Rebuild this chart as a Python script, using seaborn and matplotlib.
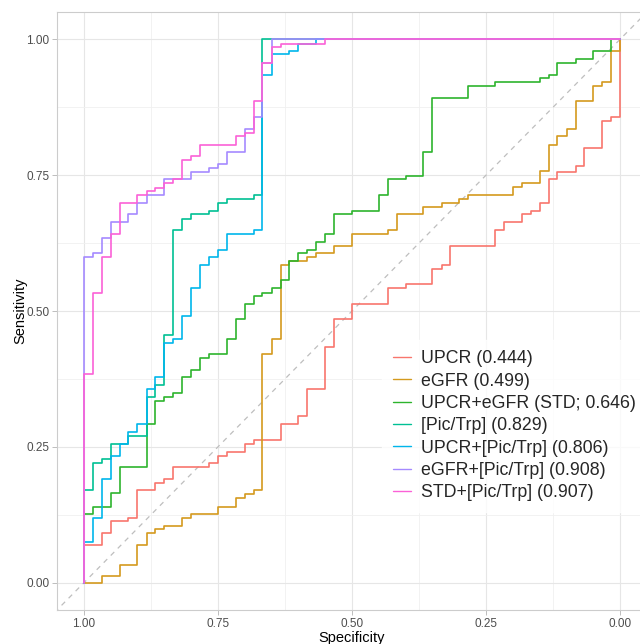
import pandas as pd
import seaborn as sns
import matplotlib.pyplot as plt
from matplotlib.ticker import FixedLocator

# ROC curves (specificity, sensitivity) at the foot of each vertical step
upcr_spec = [1, 0.967, 0.950, 0.917, 0.900, 0.867, 0.850, 0.833, 0.767, 0.750, 0.733, 0.700, 0.683, 0.633, 0.600,
             0.583, 0.550, 0.533, 0.500, 0.433, 0.400, 0.350, 0.333, 0.317, 0.233, 0.217, 0.183, 0.167, 0.150, 0.133,
             0.117, 0.083, 0.067, 0.033, 0.017, 0, 0]
upcr_sens = [0, 0.069, 0.091, 0.113, 0.119, 0.170, 0.184, 0.191, 0.213, 0.220, 0.234, 0.241, 0.256, 0.263, 0.292,
             0.306, 0.356, 0.434, 0.485, 0.513, 0.542, 0.549, 0.578, 0.585, 0.620, 0.649, 0.663, 0.678, 0.684, 0.699,
             0.742, 0.756, 0.767, 0.799, 0.849, 0.856, 1]

egfr_spec = [1, 0.967, 0.933, 0.900, 0.883, 0.867, 0.850, 0.817, 0.800, 0.750, 0.717, 0.700, 0.683, 0.667, 0.650,
             0.633, 0.617, 0.583, 0.567, 0.533, 0.500, 0.433, 0.417, 0.367, 0.333, 0.300, 0.283, 0.200, 0.183, 0.150,
             0.133, 0.117, 0.100, 0.083, 0.050, 0.033, 0.017, 0, 0]
egfr_sens = [0, 0, 0.013, 0.033, 0.069, 0.091, 0.099, 0.105, 0.119, 0.126, 0.140, 0.156, 0.163, 0.170, 0.420,
             0.449, 0.585, 0.592, 0.599, 0.606, 0.620, 0.642, 0.649, 0.678, 0.692, 0.699, 0.706, 0.714, 0.729, 0.735,
             0.757, 0.806, 0.821, 0.835, 0.886, 0.914, 0.921, 0.979, 1]

std_spec = [1, 0.983, 0.950, 0.933, 0.883, 0.867, 0.850, 0.833, 0.817, 0.800, 0.783, 0.767, 0.733, 0.717, 0.700,
            0.683, 0.667, 0.650, 0.633, 0.617, 0.600, 0.583, 0.567, 0.550, 0.533, 0.500, 0.450, 0.433, 0.400, 0.367,
            0.350, 0.283, 0.233, 0.150, 0.133, 0.117, 0.083, 0.050, 0.017, 0]
std_sens = [0, 0.126, 0.140, 0.166, 0.213, 0.292, 0.335, 0.341, 0.349, 0.378, 0.392, 0.413, 0.420, 0.449, 0.485,
            0.513, 0.528, 0.534, 0.543, 0.557, 0.592, 0.606, 0.613, 0.627, 0.642, 0.678, 0.684, 0.714, 0.742, 0.749,
            0.792, 0.892, 0.914, 0.921, 0.928, 0.935, 0.957, 0.964, 0.978, 1.0]

pt_spec = [1, 0.983, 0.967, 0.950, 0.917, 0.883, 0.867, 0.850, 0.833, 0.817, 0.800, 0.767, 0.750, 0.733, 0.683,
           0.667, 0]
pt_sens = [0, 0.170, 0.220, 0.227, 0.256, 0.270, 0.341, 0.363, 0.456, 0.649, 0.670, 0.678, 0.684, 0.699, 0.706,
           0.713, 1.0]

upcr_pt_spec = [1, 0.983, 0.967, 0.950, 0.933, 0.917, 0.900, 0.883, 0.867, 0.850, 0.833, 0.817, 0.800, 0.783, 0.767,
                0.750, 0.733, 0.683, 0.667, 0.650, 0.617, 0.600, 0.567, 0]
upcr_pt_sens = [0, 0.076, 0.119, 0.191, 0.234, 0.256, 0.277, 0.292, 0.356, 0.378, 0.442, 0.449, 0.491, 0.542, 0.585,
                0.599, 0.613, 0.642, 0.649, 0.935, 0.972, 0.979, 0.992, 1.0]

egfr_pt_spec = [1, 0.983, 0.967, 0.950, 0.917, 0.900, 0.883, 0.850, 0.800, 0.767, 0.750, 0.733, 0.700, 0.683, 0.667,
                0.650, 0]
egfr_pt_sens = [0, 0.599, 0.606, 0.635, 0.663, 0.678, 0.699, 0.713, 0.742, 0.756, 0.763, 0.770, 0.792, 0.835, 0.856,
                0.957, 1.0]

std_pt_spec = [1, 0.983, 0.967, 0.950, 0.933, 0.900, 0.883, 0.867, 0.850, 0.833, 0.817, 0.800, 0.783, 0.717, 0.700,
               0.683, 0.667, 0.650, 0.633, 0.550, 0]
std_pt_sens = [0, 0.385, 0.534, 0.599, 0.642, 0.699, 0.713, 0.721, 0.727, 0.735, 0.742, 0.778, 0.785, 0.806, 0.821,
               0.828, 0.886, 0.957, 0.986, 0.992, 1.0]

labels = ['UPCR (0.444)', 'eGFR (0.499)', 'UPCR+eGFR (STD; 0.646)', '[Pic/Trp] (0.829)',
          'UPCR+[Pic/Trp] (0.806)', 'eGFR+[Pic/Trp] (0.908)', 'STD+[Pic/Trp] (0.907)']
curves = [(upcr_spec, upcr_sens), (egfr_spec, egfr_sens), (std_spec, std_sens), (pt_spec, pt_sens),
          (upcr_pt_spec, upcr_pt_sens), (egfr_pt_spec, egfr_pt_sens), (std_pt_spec, std_pt_sens)]
palette = ['#F8766D', '#D49A1E', '#2DB42D', '#00C094', '#00B6EB', '#A58AFF', '#FB61D7']

ticks = [0, 0.25, 0.5, 0.75, 1]
tick_labels = ['0.00', '0.25', '0.50', '0.75', '1.00']

# --------------------------
# Data frame
# --------------------------
frames = []
for lab, (sp, se) in zip(labels, curves):
    frames.append(pd.DataFrame({'Specificity': sp, 'Sensitivity': se, 'Model': lab}))
df = pd.concat(frames, ignore_index=True)

# --------------------------
# Plot
# --------------------------
sns.set_theme(style='white')
plt.rcParams['font.family'] = ['Liberation Sans', 'DejaVu Sans']

fig = plt.figure(figsize=(6.4, 6.44), dpi=100)
ax = fig.add_axes([57 / 640, 1 - 610 / 644, 590 / 640, 598 / 644])

ax.axline((1, 0), (0, 1), color='#BEBEBE', lw=0.9, ls=(0, (4, 4)), zorder=1)

sns.lineplot(data=df, x='Specificity', y='Sensitivity', hue='Model', hue_order=labels, palette=palette,
             sort=False, estimator=None, drawstyle='steps-pre', linewidth=1.2, ax=ax, zorder=3)

ax.set_xlim(1.05, -0.05)
ax.set_ylim(-0.05, 1.05)
ax.set_xticks(ticks)
ax.set_xticklabels(tick_labels)
ax.set_yticks(ticks)
ax.set_yticklabels(tick_labels)
ax.xaxis.set_minor_locator(FixedLocator([0.125, 0.375, 0.625, 0.875]))
ax.yaxis.set_minor_locator(FixedLocator([0.125, 0.375, 0.625, 0.875]))

ax.grid(which='major', color='#E6E6E6', lw=0.8, zorder=0)
ax.grid(which='minor', color='#F0F0F0', lw=0.6, zorder=0)
ax.set_axisbelow(True)
ax.tick_params(which='major', length=3.5, width=0.6, color='#B3B3B3', labelsize=8.5, labelcolor='#4D4D4D',
               pad=2, bottom=True, left=True)
ax.tick_params(which='minor', length=0)
for s in ax.spines.values():
    s.set_color('#CCCCCC')
    s.set_linewidth(0.8)

ax.set_xlabel('Specificity', fontsize=10.5, color='black', labelpad=1)
ax.set_ylabel('Sensitivity', fontsize=10.5, color='black', labelpad=-1)

# Legend
handles, labs = ax.get_legend_handles_labels()
leg = ax.legend(handles, labs, loc='upper left', bbox_to_anchor=(0.551, 0.452), frameon=True, fancybox=False,
                fontsize=12.8, handlelength=1.0, handletextpad=0.6, labelspacing=0.3, borderpad=0.6,
                borderaxespad=0)
leg.get_frame().set_facecolor('white')
leg.get_frame().set_edgecolor('white')
for line in leg.get_lines():
    line.set_linewidth(1.0)

plt.savefig('out.png', dpi=100)
plt.close()
